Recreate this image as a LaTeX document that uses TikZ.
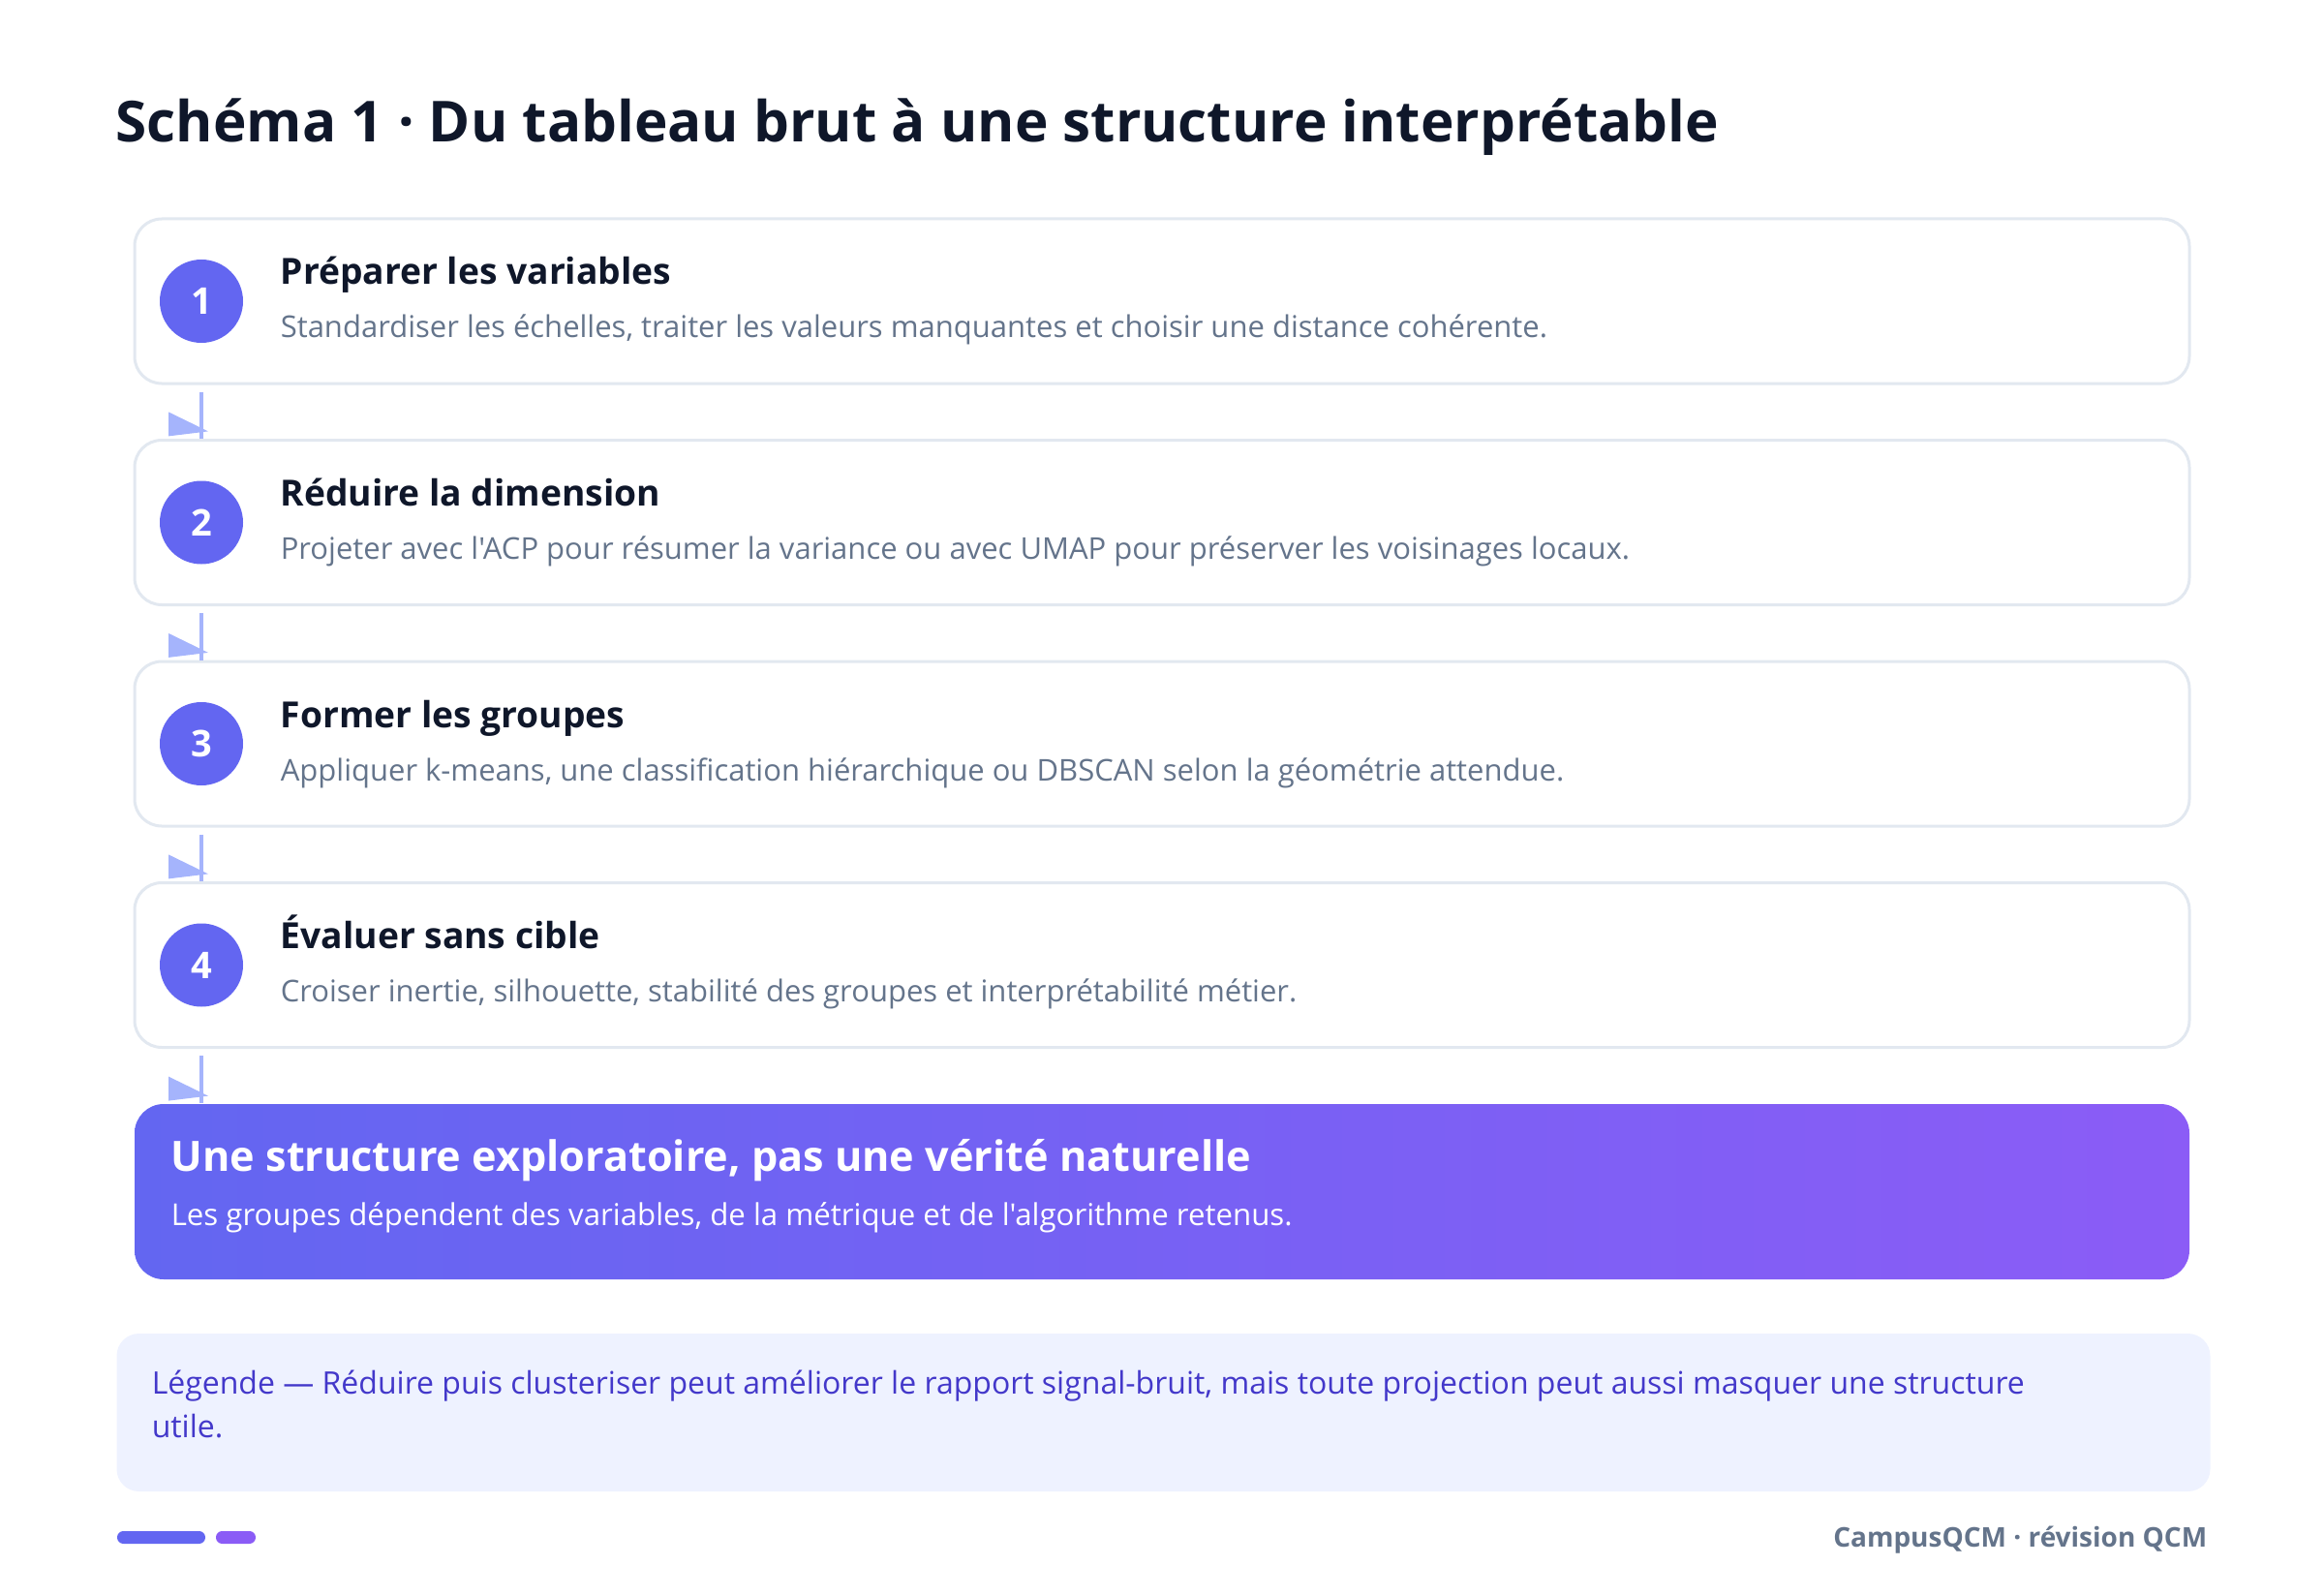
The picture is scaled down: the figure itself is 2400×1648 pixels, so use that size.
\documentclass[tikz,border=0pt]{standalone}
\usepackage{fontspec}
\setmainfont{Open Sans}[Ligatures=TeXOff]
\usetikzlibrary{positioning}
\definecolor{accent}{HTML}{6366F1}
\definecolor{accentb}{HTML}{8B5CF6}
\definecolor{ink}{HTML}{0F172A}
\definecolor{muted}{HTML}{64748B}
\definecolor{rim}{HTML}{E2E8F0}
\definecolor{flowc}{HTML}{A5B4FC}
\definecolor{legfill}{HTML}{EEF2FF}
\definecolor{legink}{HTML}{4338CA}
\newcommand{\headfont}{\fontsize{14.6pt}{17pt}\selectfont\bfseries}
\newcommand{\ttlfont}{\fontsize{9.3pt}{11pt}\selectfont\bfseries}
\newcommand{\descfont}{\fontsize{7.75pt}{9pt}\selectfont}
\newcommand{\numfont}{\fontsize{9.5pt}{10pt}\selectfont\bfseries}
\tikzset{
  stepbox/.style = {draw=rim, line width=0.75pt, fill=white, rounded corners=7pt,
                    minimum width=530.5pt, minimum height=42.5pt},
  badge/.style   = {circle, fill=accent, minimum size=21.5pt, inner sep=0pt,
                    text=white, font=\numfont},
  ttl/.style     = {anchor=base west, inner sep=0pt, text=ink, font=\ttlfont},
  desc/.style    = {anchor=base west, inner sep=0pt, text=muted, font=\descfont},
  flow/.style    = {draw=flowc, line width=1pt},
  flowtip/.style = {fill=flowc},
  finbox/.style  = {rounded corners=7.5pt, left color=accent, right color=accentb,
                    minimum width=530.5pt, minimum height=45.25pt},
}

\begin{document}
\begin{tikzpicture}[x=0.25pt, y=-0.25pt]

  \useasboundingbox (0,0) rectangle (2400,1648);

  % title
  \node[anchor=base west, inner sep=0pt, text=ink, font=\headfont] (head) at (119,147)
    {Schéma 1 · Du tableau brut à une structure interprétable};

  % step 1
  \node[stepbox] (s1) at (1200,311) {};
  \node[badge] (n1) at (208,311) {1};
  \node[ttl] (t1) at (289,294) {Préparer les variables};
  \node[desc] (d1) at (289,349) {Standardiser les échelles, traiter les valeurs manquantes et choisir une distance cohérente.};

  % step 2
  \node[stepbox] (s2) at (1200,539.5) {};
  \node[badge] (n2) at (208,539.5) {2};
  \node[ttl] (t2) at (289,522.5) {Réduire la dimension};
  \node[desc] (d2) at (289,577.5) {Projeter avec l'ACP pour résumer la variance ou avec UMAP pour préserver les voisinages locaux.};

  % step 3
  \node[stepbox] (s3) at (1200,768) {};
  \node[badge] (n3) at (208,768) {3};
  \node[ttl] (t3) at (289,751) {Former les groupes};
  \node[desc] (d3) at (289,806) {Appliquer k-means, une classification hiérarchique ou DBSCAN selon la géométrie attendue.};

  % step 4
  \node[stepbox] (s4) at (1200,996.5) {};
  \node[badge] (n4) at (208,996.5) {4};
  \node[ttl] (t4) at (289,979.5) {Évaluer sans cible};
  \node[desc] (d4) at (289,1034.5) {Croiser inertie, silhouette, stabilité des groupes et interprétabilité métier.};

  % conclusion
  \node[finbox] (fin) at (1200,1230.5) {};
  \node[anchor=base west, inner sep=0pt, text=white, font=\fontsize{10.8pt}{12pt}\selectfont\bfseries] (fint) at (176,1209)
    {Une structure exploratoire, pas une vérité naturelle};
  \node[anchor=base west, inner sep=0pt, text=white, font=\fontsize{7.8pt}{9pt}\selectfont] (find) at (176,1265)
    {Les groupes dépendent des variables, de la métrique et de l'algorithme retenus.};

  % connectors
  \draw[flow] (n1 |- s1.south) ++(0,7) -- (n1 |- s2.north);
  \fill[flowtip] (n1 |- s2.north) ++(-34,-27.6) -- ++(0,25) -- ++(41,-5) -- cycle;
  \draw[flow] (n2 |- s2.south) ++(0,7) -- (n2 |- s3.north);
  \fill[flowtip] (n2 |- s3.north) ++(-34,-27.6) -- ++(0,25) -- ++(41,-5) -- cycle;
  \draw[flow] (n3 |- s3.south) ++(0,7) -- (n3 |- s4.north);
  \fill[flowtip] (n3 |- s4.north) ++(-34,-27.6) -- ++(0,25) -- ++(41,-5) -- cycle;
  \draw[flow] (n4 |- s4.south) ++(0,7) -- (n4 |- fin.north);
  \fill[flowtip] (n4 |- fin.north) ++(-34,-27.6) -- ++(0,25) -- ++(41,-5) -- cycle;

  % legend
  \node[fill=legfill, rounded corners=5.75pt, minimum width=540.5pt, minimum height=40.75pt] (leg) at (1201.5,1458.5) {};
  \node[anchor=base west, inner sep=0pt, text=legink, font=\fontsize{8pt}{9pt}\selectfont, align=left] (legt) at (156,1484)
    {Légende — Réduire puis clusteriser peut améliorer le rapport signal-bruit, mais toute projection peut aussi masquer une structure\\[2.1pt]utile.};

  % footer
  \fill[accent, rounded corners=1.6pt] (121,1581) rectangle (212,1594);
  \fill[accentb, rounded corners=1.6pt] (223,1581) rectangle (264,1594);
  \node[anchor=base east, inner sep=0pt, text=muted, font=\fontsize{7pt}{8pt}\selectfont\bfseries] (foot) at (2280,1597)
    {CampusQCM · révision QCM};

\end{tikzpicture}
\end{document}
